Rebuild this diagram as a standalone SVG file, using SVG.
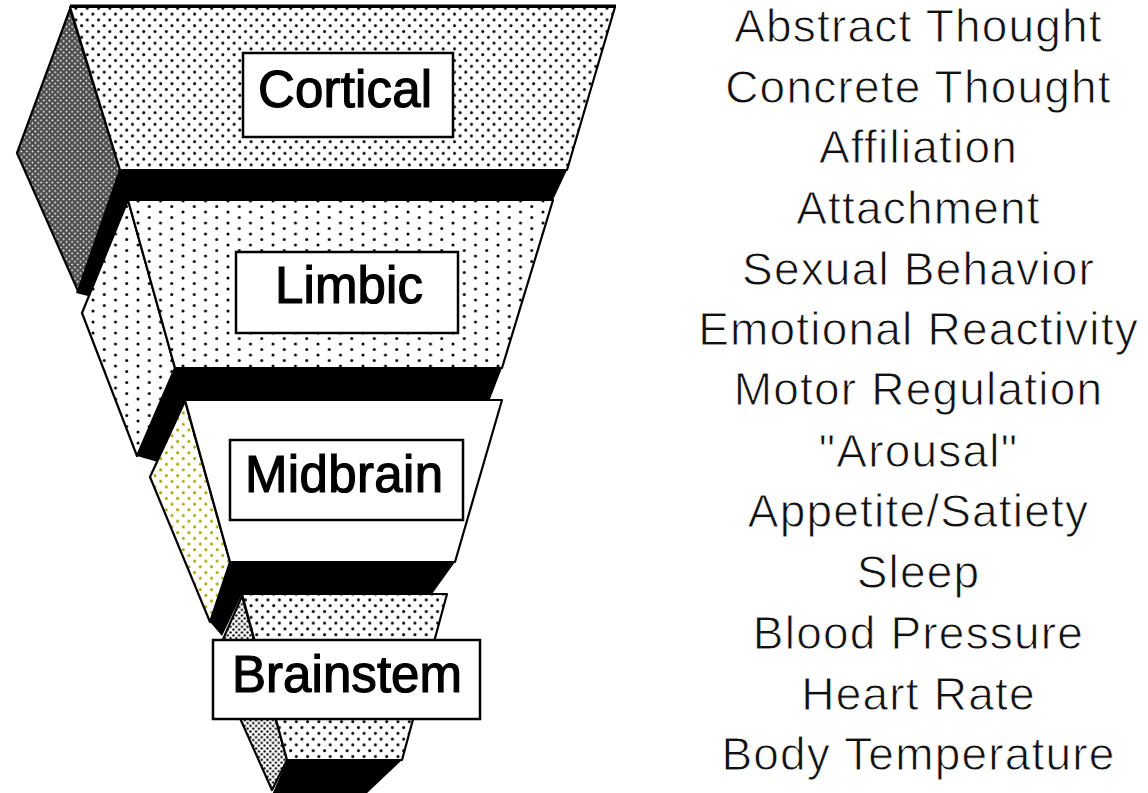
<svg xmlns="http://www.w3.org/2000/svg" width="1148" height="793" viewBox="0 0 1148 793">
<defs>
<pattern id="pCort" width="11.3" height="11.6" patternUnits="userSpaceOnUse">
<rect width="11.3" height="11.6" fill="#fff"/>
<circle cx="2.5" cy="2.5" r="1.5" fill="#000"/>
<circle cx="8.15" cy="8.3" r="1.5" fill="#000"/>
</pattern>
<pattern id="pLimb" width="22.5" height="11" patternUnits="userSpaceOnUse">
<rect width="22.5" height="11" fill="#fff"/>
<circle cx="3" cy="3" r="1.5" fill="#000"/>
<circle cx="14.25" cy="8.5" r="1.5" fill="#000"/>
</pattern>
<pattern id="pDark" width="5.66" height="5.66" patternUnits="userSpaceOnUse">
<rect width="5.66" height="5.66" fill="#4a4a4a"/>
<circle cx="1.4" cy="1.4" r="0.95" fill="#fff"/>
<circle cx="4.23" cy="4.23" r="0.95" fill="#fff"/>
</pattern>
<pattern id="pYel" width="11.3" height="11.4" patternUnits="userSpaceOnUse">
<rect width="11.3" height="11.4" fill="#fff"/>
<circle cx="2.5" cy="2.5" r="1.5" fill="#a8a800"/>
<circle cx="8.15" cy="8.2" r="1.5" fill="#a8a800"/>
</pattern>
<pattern id="pFine" width="5.66" height="5.66" patternUnits="userSpaceOnUse">
<rect width="5.66" height="5.66" fill="#fff"/>
<circle cx="1.4" cy="1.4" r="1.2" fill="#000"/>
<circle cx="4.23" cy="4.23" r="1.2" fill="#000"/>
</pattern>
</defs>
<style>
.edge{stroke:#000;stroke-width:2.2;stroke-linejoin:round}
.bot{fill:#000}
.box{fill:#fff;stroke:#000;stroke-width:2.5}
.lbl{font-family:"Liberation Sans",Arial,sans-serif;font-size:51px;fill:#000;stroke:#000;stroke-width:1.2}
.fn{font-family:"Liberation Sans",Arial,sans-serif;font-size:46px;fill:#111;letter-spacing:1.2px;text-anchor:middle;stroke:#fff;stroke-width:0.9}
</style>
<g id="cortical">
<polygon class="bot" points="120,170 567,170 553,200 128,200 88,296 76,293"/>
<polygon class="edge" fill="url(#pDark)" points="70,9 17,153 78,291 120,170"/>
<polygon class="edge" fill="url(#pCort)" points="70,7 615,7 567,170 120,170"/>
<line x1="70" y1="6" x2="616" y2="6" stroke="#000" stroke-width="3"/>
<rect class="box" x="243" y="53" width="210" height="84"/>
<text class="lbl" x="258" y="107" textLength="174" lengthAdjust="spacing">Cortical</text>
</g>
<g id="limbic">
<polygon class="bot" points="175,368 502,368 490,399 185,400 158,462 137,456"/>
<polygon class="edge" fill="url(#pLimb)" points="128,200 82,313 137,456 175,368"/>
<polygon class="edge" fill="url(#pLimb)" points="128,200 553,200 502,368 175,368"/>
<rect class="box" x="236" y="252" width="222" height="81"/>
<text class="lbl" x="275" y="303" textLength="148" lengthAdjust="spacing">Limbic</text>
</g>
<g id="midbrain">
<polygon class="bot" points="230,562 455,562 432,594 242,594 222,636 210,622"/>
<polygon class="edge" fill="url(#pYel)" points="185,401 150,477 210,622 230,562"/>
<polygon class="edge" fill="#fff" points="185,400 502,400 455,562 230,562"/>
<rect class="box" x="230" y="440" width="233" height="80"/>
<text class="lbl" x="245" y="492" textLength="198" lengthAdjust="spacing">Midbrain</text>
</g>
<g id="brainstem">
<polygon class="bot" points="287,760 402,760 365,795 272,795"/>
<polygon class="edge" fill="url(#pFine)" points="242,596 214,660 272,790 287,760"/>
<polygon class="edge" fill="url(#pCort)" points="242,594 447,594 402,760 287,760"/>
<rect class="box" x="213" y="640" width="267" height="79"/>
<text class="lbl" x="232" y="692" textLength="230" lengthAdjust="spacing">Brainstem</text>
</g>
<g id="connectors"></g>
<g id="functions">
<text class="fn" x="918.5" y="42">Abstract Thought</text>
<text class="fn" x="918.5" y="102.7">Concrete Thought</text>
<text class="fn" x="918.5" y="163.3">Affiliation</text>
<text class="fn" x="918.5" y="224">Attachment</text>
<text class="fn" x="918.5" y="284.7">Sexual Behavior</text>
<text class="fn" x="918.5" y="345.3">Emotional Reactivity</text>
<text class="fn" x="918.5" y="405">Motor Regulation</text>
<text class="fn" x="918.5" y="466.7">"Arousal"</text>
<text class="fn" x="918.5" y="527.3">Appetite/Satiety</text>
<text class="fn" x="918.5" y="588">Sleep</text>
<text class="fn" x="918.5" y="648.7">Blood Pressure</text>
<text class="fn" x="918.5" y="710">Heart Rate</text>
<text class="fn" x="918.5" y="770">Body Temperature</text>
</g>
</svg>
